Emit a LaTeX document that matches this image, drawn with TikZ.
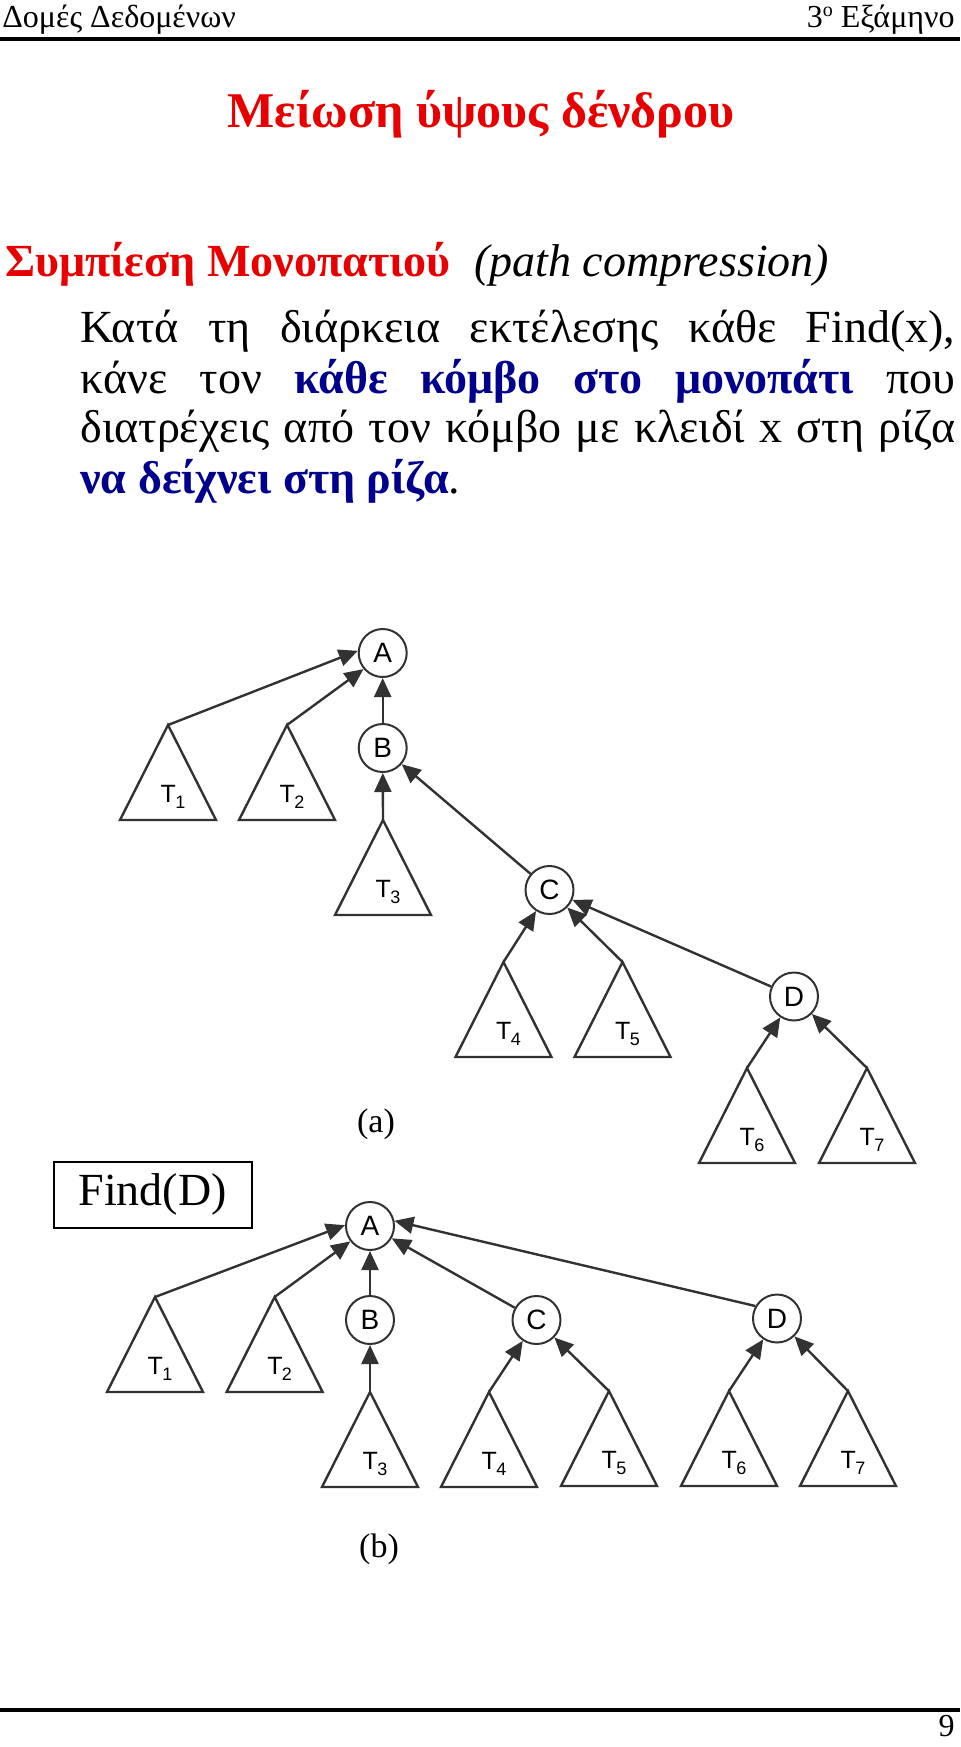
\documentclass[tikz,border=0pt]{standalone}
\usepackage{fontspec}
\setmainfont{Liberation Serif}
\newfontfamily\figfont{Liberation Sans}
\usetikzlibrary{arrows.meta}
\definecolor{slidered}{RGB}{232,0,0}
\definecolor{slideblue}{RGB}{0,0,140}
\definecolor{figgray}{RGB}{50,50,50}
\newcommand{\tsub}[1]{T\kern-0.3pt\raisebox{-3pt}{\fontsize{9pt}{9pt}\selectfont #1}}

\begin{document}
\begin{tikzpicture}[x=0.5pt,y=-0.5pt,
  vertex/.style={circle, draw=figgray, line width=1pt, minimum size=24pt, inner sep=0pt, font=\figfont\fontsize{14pt}{14pt}\selectfont},
  subtree/.style={draw=figgray, line width=1.2pt},
  tlabel/.style={anchor=base, inner sep=0pt, font=\figfont\fontsize{12.5pt}{13pt}\selectfont},
  link/.style={draw=figgray, line width=1.2pt, -{Triangle[length=9.5pt,width=8.5pt]}},
  bodytext/.style={anchor=base west, inner sep=0pt, font=\fontsize{23pt}{25pt}\selectfont}]
\useasboundingbox (0,0) rectangle (960,1747);

% header and footer
\node[anchor=base west, inner sep=0pt, font=\fontsize{16pt}{18pt}\selectfont] (course) at (2,27) {Δομές Δεδομένων};
\node[anchor=base east, inner sep=0pt, font=\fontsize{16pt}{18pt}\selectfont] (term) at (955,27) {3\raisebox{5.5pt}{\fontsize{10pt}{10pt}\selectfont ο} Εξάμηνο};
\draw[line width=2pt] (0,38.5) -- (960,38.5);
\draw[line width=2pt] (0,1710) -- (960,1710);
\node[anchor=base east, inner sep=0pt, font=\fontsize{16pt}{18pt}\selectfont] (page) at (955,1736) {9};

% title and text
\node[anchor=base, inner sep=0pt, text=slidered, font=\bfseries\fontsize{25pt}{27pt}\selectfont] (title) at (481,127) {Μείωση ύψους δένδρου};
\node[bodytext] (subtitle) at (5,276) {{\color{slidered}\bfseries Συμπίεση Μονοπατιού}\hspace{12pt}\textit{(path compression)}};
\node[bodytext] (line1) at (80,342) {\makebox[437.5pt][s]{Κατά τη διάρκεια εκτέλεσης κάθε Find(x),}};
\node[bodytext] (line2) at (80,393) {\makebox[437.5pt][s]{κάνε τον {\color{slideblue}\bfseries κάθε κόμβο στο μονοπάτι} που}};
\node[bodytext] (line3) at (80,442) {\makebox[437.5pt][s]{διατρέχεις από τον κόμβο με κλειδί x στη ρίζα}};
\node[bodytext] (line4) at (80,493) {{\color{slideblue}\bfseries να δείχνει στη ρίζα}.};

% subtrees
\foreach \n/\x/\y/\k in {p1/168/725/1, p2/287/725/2, p3/383/820/3, p4/503.5/962/4, p5/622.5/962/5, p6/747/1068/6, p7/867/1068/7,
  q1/155/1297/1, q2/274.6/1297/2, q3/370/1392/3, q4/489/1392/4, q5/609/1391/5, q6/729/1391/6, q7/848/1391/7}
{
  \coordinate (\n) at (\x,\y);
  \draw[subtree] (\n) -- ++(-48,95) -- ++(96,0) -- cycle;
  \node[tlabel] (\n-lbl) at ({\x+5},{\y+77}) {\tsub{\k}};
}

% (a) before Find
\node[vertex] (A1) at (382.7,653) {A};
\node[vertex] (B1) at (382.7,748) {B};
\node[vertex] (C1) at (549.5,890) {C};
\node[vertex] (D1) at (794,996.5) {D};
\foreach \src/\dst in {p1/A1.175, p2/A1.220, B1/A1, p3/B1, C1/B1, p4/C1, p5/C1, D1/C1, p6/D1, p7/D1}
  \draw[link] (\src) -- (\dst);
\node[inner sep=0pt, font=\fontsize{17pt}{18pt}\selectfont] (capa) at (376,1124) {(a)};

% (b) after Find(D)
\node[draw, line width=1pt, minimum width=99pt, minimum height=33pt, inner sep=0pt, font=\fontsize{23pt}{24pt}\selectfont] (find) at (152.6,1194.5) {Find(D)};
\node[vertex] (A2) at (370,1226) {A};
\node[vertex] (B2) at (370,1320) {B};
\node[vertex] (C2) at (536.5,1320) {C};
\node[vertex] (D2) at (777,1318.5) {D};
\foreach \src/\dst in {q1/A2.178, q2/A2.218, B2/A2, C2/A2, D2.150/A2.12, q3/B2, q4/C2, q5/C2, q6/D2, q7/D2}
  \draw[link] (\src) -- (\dst);
\node[inner sep=0pt, font=\fontsize{17pt}{18pt}\selectfont] (capb) at (379,1549) {(b)};
\end{tikzpicture}
\end{document}
